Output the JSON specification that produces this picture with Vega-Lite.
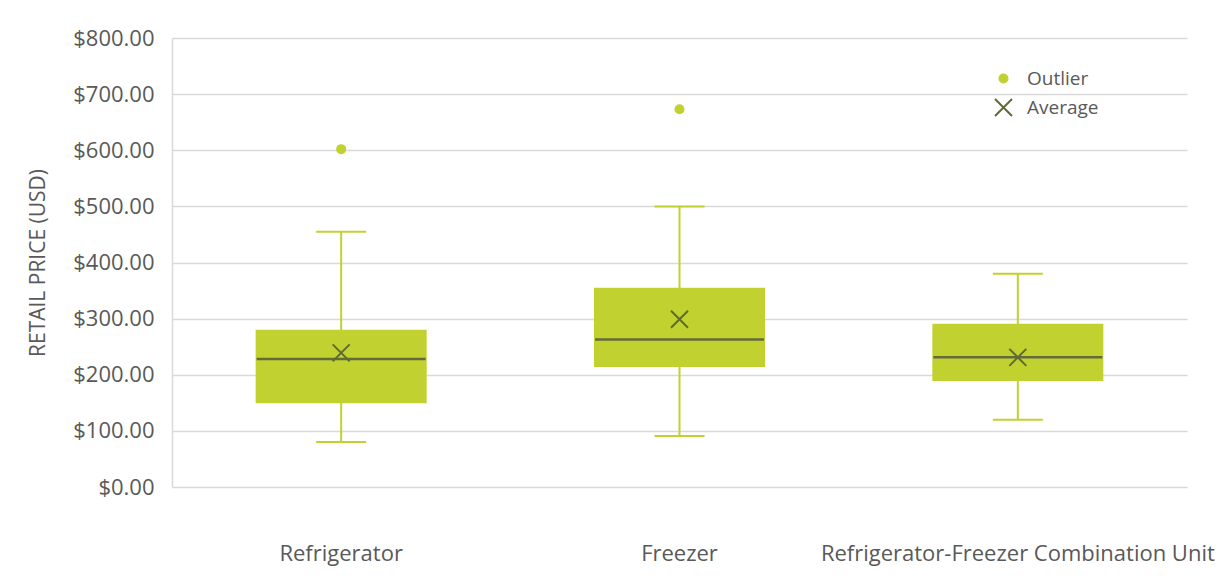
{
  "$schema": "https://vega.github.io/schema/vega-lite/v6.json",
  "width": 1015,
  "height": 449,
  "autosize": {"type": "none"},
  "padding": {"left": 172, "top": 38, "right": 33, "bottom": 91},
  "background": "white",
  "config": {
    "view": {"stroke": null},
    "font": "Open Sans",
    "legend": {
      "orient": "none",
      "legendX": 822,
      "legendY": 31,
      "labelFontSize": 19,
      "labelColor": "#595959",
      "labelOffset": 14,
      "rowPadding": 6,
      "symbolSize": 100,
      "symbolStrokeWidth": 2,
      "title": null
    }
  },
  "datasets": {
    "stats": [
      {"category": "Refrigerator", "low": 80, "q1": 149, "median": 228, "q3": 280, "high": 455},
      {"category": "Freezer", "low": 91, "q1": 214, "median": 263, "q3": 355, "high": 500},
      {"category": "Refrigerator-Freezer Combination Unit", "low": 120, "q1": 189, "median": 231, "q3": 291, "high": 380}
    ],
    "points": [
      {"category": "Refrigerator", "type": "Outlier", "value": 602},
      {"category": "Freezer", "type": "Outlier", "value": 673},
      {"category": "Refrigerator", "type": "Average", "value": 239},
      {"category": "Freezer", "type": "Average", "value": 299},
      {"category": "Refrigerator-Freezer Combination Unit", "type": "Average", "value": 231}
    ]
  },
  "encoding": {
    "x": {
      "field": "category",
      "type": "nominal",
      "scale": {
        "domain": ["Refrigerator", "Freezer", "Refrigerator-Freezer Combination Unit"],
        "paddingInner": 0,
        "paddingOuter": 0
      },
      "axis": {
        "title": null,
        "domain": false,
        "ticks": false,
        "labelAngle": 0,
        "labelFontSize": 22,
        "labelColor": "#595959",
        "labelPadding": 56,
        "labelLimit": 0,
        "labelFont": "Open Sans"
      }
    }
  },
  "layer": [
    {
      "data": {"name": "stats"},
      "mark": {"type": "rule", "color": "#C0D130", "strokeWidth": 2},
      "encoding": {
        "y": {
          "field": "low",
          "type": "quantitative",
          "scale": {"domain": [0, 800], "nice": false},
          "axis": {
            "title": "RETAIL PRICE (USD)",
            "titleFontSize": 21,
            "titleFontWeight": "normal",
            "titleColor": "#595959",
            "titlePadding": 24,
            "values": [0, 100, 200, 300, 400, 500, 600, 700, 800],
            "format": "$,.2f",
            "labelFontSize": 22,
            "labelColor": "#595959",
            "labelPadding": 18,
            "ticks": false,
            "domain": true,
            "domainColor": "#D9D9D9",
            "domainWidth": 1.5,
            "grid": true,
            "gridColor": "#D9D9D9",
            "gridWidth": 1.5
          }
        },
        "y2": {"field": "high"}
      }
    },
    {
      "data": {"name": "stats"},
      "mark": {"type": "bar", "color": "#C0D130", "size": 171},
      "encoding": {
        "y": {"field": "q1", "type": "quantitative"},
        "y2": {"field": "q3"}
      }
    },
    {
      "data": {"name": "stats"},
      "mark": {"type": "tick", "color": "#646B3A", "size": 169, "thickness": 2.5, "opacity": 1},
      "encoding": {
        "y": {"field": "median", "type": "quantitative"}
      }
    },
    {
      "data": {"name": "stats"},
      "mark": {"type": "tick", "color": "#C0D130", "size": 50, "thickness": 2, "opacity": 1},
      "encoding": {
        "y": {"field": "low", "type": "quantitative"}
      }
    },
    {
      "data": {"name": "stats"},
      "mark": {"type": "tick", "color": "#C0D130", "size": 50, "thickness": 2, "opacity": 1},
      "encoding": {
        "y": {"field": "high", "type": "quantitative"}
      }
    },
    {
      "data": {"name": "points"},
      "mark": {"type": "point", "size": 100, "strokeWidth": 2, "opacity": 1},
      "encoding": {
        "y": {"field": "value", "type": "quantitative"},
        "shape": {
          "field": "type",
          "type": "nominal",
          "scale": {"domain": ["Outlier", "Average"], "range": ["circle", "M-1.7,-1.7L1.7,1.7M1.7,-1.7L-1.7,1.7"]}
        },
        "fill": {
          "field": "type",
          "type": "nominal",
          "scale": {"domain": ["Outlier", "Average"], "range": ["#C0D130", "transparent"]}
        },
        "stroke": {
          "field": "type",
          "type": "nominal",
          "scale": {"domain": ["Outlier", "Average"], "range": ["transparent", "#5E6A33"]}
        }
      }
    }
  ]
}
